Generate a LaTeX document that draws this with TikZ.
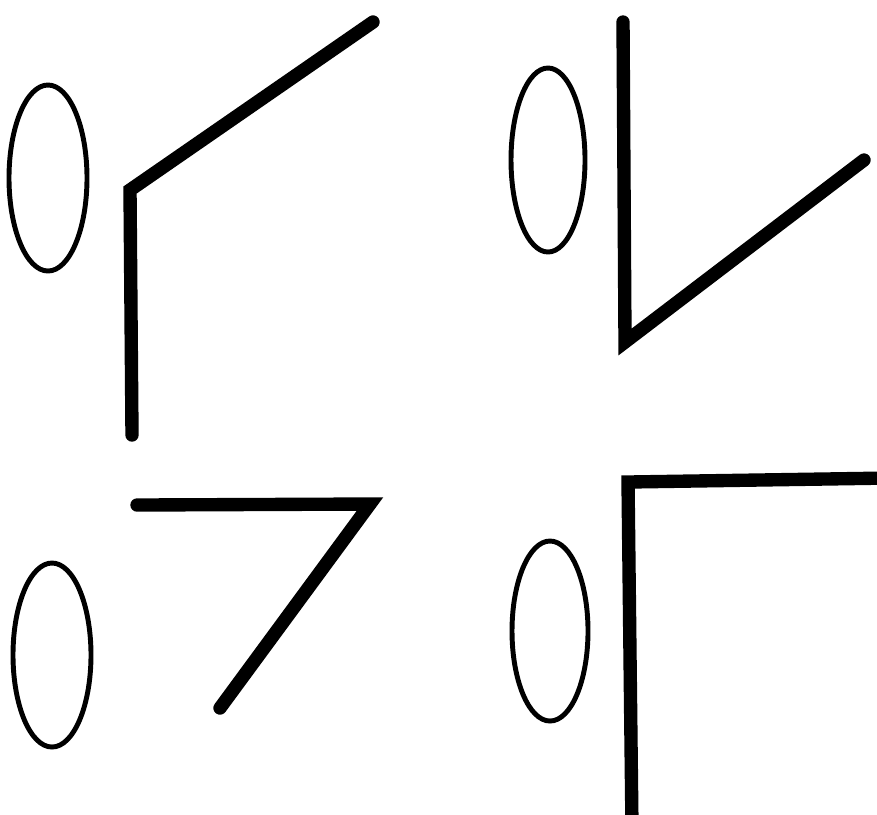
\documentclass[tikz,border=0pt]{standalone}
\usepackage{tikz}
\tikzset{
  ring/.style={draw=black, line width=1.4pt},
  hook/.style={draw=black, line width=3.8pt, line cap=round, line join=miter}
}
\begin{document}
\begin{tikzpicture}[x=0.01cm, y=-0.01cm]
  \useasboundingbox (0,0) rectangle (877,814);

  % Upper left
  \draw[ring] (48,178) ellipse [x radius=39, y radius=93];
  \draw[hook] (132,435) -- (130,190) -- (373,22);

  % Upper right
  \draw[ring] (548,160) ellipse [x radius=37, y radius=92];
  \draw[hook] (623,22) -- (625,342) -- (864,160);

  % Lower left
  \draw[ring] (52,655) ellipse [x radius=39, y radius=92];
  \draw[hook] (137,505) -- (370,504) -- (220,708);

  % Lower right
  \draw[ring] (550,631) ellipse [x radius=38, y radius=90];
  \draw[hook] (632,830) -- (628,482) -- (890,478);
\end{tikzpicture}
\end{document}
